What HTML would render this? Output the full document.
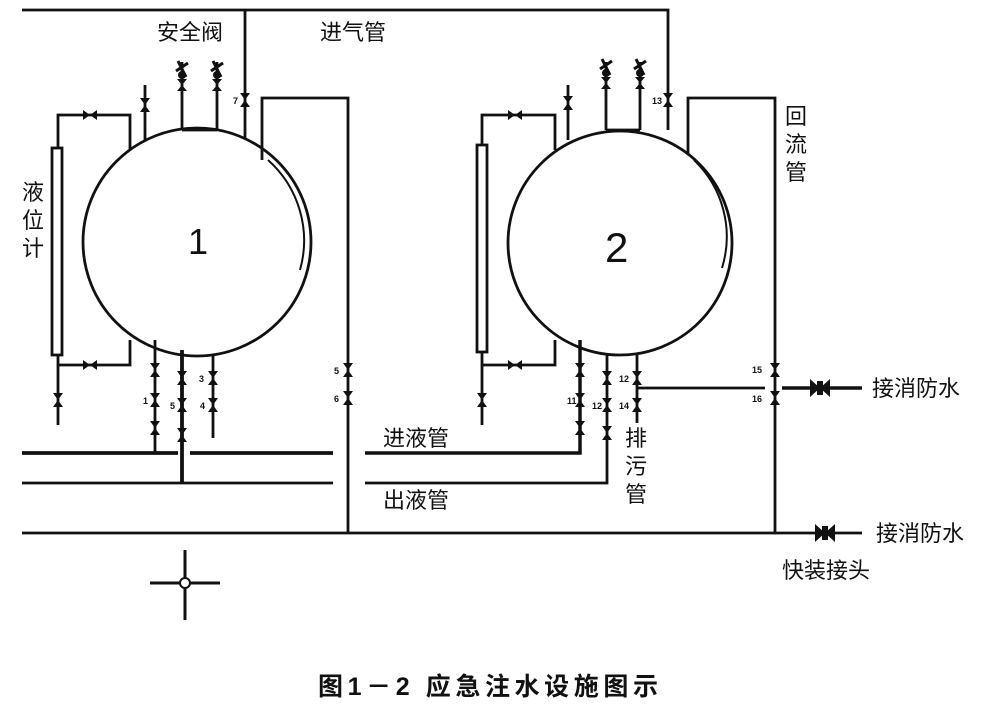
<!DOCTYPE html>
<html><head><meta charset="utf-8"><style>
html,body{margin:0;padding:0;background:#fff;}
svg{display:block}
text{font-family:"Liberation Sans","Noto Sans CJK SC",sans-serif;fill:#111}
</style></head><body>
<svg width="1000" height="706" viewBox="0 0 1000 706" xmlns="http://www.w3.org/2000/svg">
<defs>
<g id="vv"><path d="M-5,-7 L5,-7 L0,0 Z M-5,7 L5,7 L0,0 Z" fill="#111"/></g>
<g id="hv"><path d="M-7,-5 L-7,5 L0,0 Z M7,-5 L7,5 L0,0 Z" fill="#111"/></g>
<g id="bv"><path d="M-10,-9 L-10,9 L0,0 Z M10,-9 L10,9 L0,0 Z" fill="#111"/><rect x="-3" y="-7" width="6" height="14" fill="#111"/></g>
<g id="sv"><path d="M-5,-6 L5,-6 L0,0 Z M-5,6 L5,6 L0,0 Z" fill="#111"/><path d="M-6,-14 L6,-22 M-4,-24 L4,-8" stroke="#111" stroke-width="3"/><circle cx="0" cy="-10" r="4" fill="#111"/></g>
</defs>
<g stroke="#111" stroke-width="2.8" fill="none">
<path d="M22,10 L668,10 L668,130"/>
<path d="M245,10 L245,138"/>
<circle cx="197" cy="242" r="114"/>
<path d="M268,160 A108,108 0 0 1 300,270" stroke-width="2"/>
<path d="M182,130 L217,130 M182,130 L182,62 M217,130 L217,62" />
<path d="M145,85 L145,140"/>
<rect x="52" y="148" width="10" height="207" stroke-width="2.8"/>
<path d="M58,148 L58,115 L130,115 L130,150"/>
<path d="M58,355 L58,425 M58,365 L130,365 L130,340"/>
<path d="M262,160 L262,98 L348,98 L348,533"/>
<path d="M155,340 L155,453"/>
<path d="M182,350 L182,483" stroke-width="3.8"/>
<path d="M213,355 L213,438"/>
<path d="M22,453 L178,453 M190,453 L333,453" stroke-width="3.8"/>
<path d="M22,483 L333,483"/>
<path d="M22,533 L775,533 L775,98 L688,98 L688,155"/>
<path d="M185,550 L185,620 M150,583 L220,583" stroke-width="3"/>
<circle cx="620" cy="243" r="112"/>
<path d="M694,160 A106,106 0 0 1 722,268" stroke-width="2"/>
<path d="M606,130 L640,130 M606,130 L606,62 M640,130 L640,62"/>
<path d="M568,85 L568,140"/>
<rect x="477" y="145" width="10" height="207" stroke-width="2.8"/>
<path d="M482,145 L482,115 L555,115 L555,150"/>
<path d="M482,352 L482,425 M482,365 L555,365 L555,340"/>
<path d="M580,340 L580,453 L365,453" stroke-width="3.5"/>
<path d="M607,355 L607,483 L365,483"/>
<path d="M637,355 L637,423 M637,388 L765,388"/>
<path d="M782,388 L862,388" stroke-width="3.5"/>
<path d="M775,533 L862,533"/>
</g>
<circle cx="185" cy="583" r="5" fill="#fff" stroke="#111" stroke-width="2"/>
<use href="#hv" x="90" y="115"/><use href="#hv" x="90" y="365"/>
<use href="#vv" x="145" y="105"/><use href="#vv" x="58" y="400"/>
<use href="#sv" x="182" y="85"/><use href="#sv" x="217" y="85"/>
<use href="#vv" x="245" y="100"/>
<use href="#vv" x="155" y="370"/><use href="#vv" x="155" y="400"/><use href="#vv" x="155" y="428"/>
<use href="#vv" x="182" y="378"/><use href="#vv" x="182" y="405"/><use href="#vv" x="182" y="435"/>
<use href="#vv" x="213" y="378"/><use href="#vv" x="213" y="405"/>
<use href="#vv" x="348" y="370"/><use href="#vv" x="348" y="398"/>
<use href="#hv" x="515" y="115"/><use href="#hv" x="515" y="365"/>
<use href="#vv" x="568" y="103"/><use href="#vv" x="482" y="400"/>
<use href="#sv" x="606" y="83"/><use href="#sv" x="640" y="83"/>
<use href="#vv" x="668" y="100"/>
<use href="#vv" x="580" y="370"/><use href="#vv" x="580" y="400"/><use href="#vv" x="580" y="428"/>
<use href="#vv" x="607" y="378"/><use href="#vv" x="607" y="405"/><use href="#vv" x="607" y="433"/>
<use href="#vv" x="637" y="378"/><use href="#vv" x="637" y="405"/>
<use href="#vv" x="775" y="370"/><use href="#vv" x="775" y="398"/>
<use href="#bv" x="820" y="388"/><use href="#bv" x="825" y="533"/>
<g font-size="9" font-weight="bold">
<text x="233" y="104">7</text><text x="143" y="404">1</text><text x="170" y="409">5</text><text x="199" y="382">3</text><text x="200" y="409">4</text>
<text x="334" y="374">5</text><text x="334" y="402">6</text>
<text x="652" y="104">13</text><text x="567" y="404">11</text><text x="592" y="409">12</text><text x="619" y="382">12</text><text x="619" y="409">14</text>
<text x="752" y="373">15</text><text x="752" y="402">16</text>
</g>
<g font-size="22">
<text x="157" y="40">安全阀</text>
<text x="320" y="40">进气管</text>
<text x="22" y="200">液</text><text x="22" y="228">位</text><text x="22" y="256">计</text>
<text x="785" y="124">回</text><text x="785" y="152">流</text><text x="785" y="180">管</text>
<text x="383" y="446">进液管</text>
<text x="383" y="508">出液管</text>
<text x="625" y="446">排</text><text x="625" y="474">污</text><text x="625" y="502">管</text>
<text x="872" y="396">接消防水</text>
<text x="876" y="541">接消防水</text>
<text x="782" y="578">快装接头</text>
</g>
<text x="188" y="254" font-size="36">1</text>
<text x="605" y="262" font-size="42">2</text>
<text x="318" y="695" font-size="25" font-weight="bold" textLength="340" lengthAdjust="spacing">图1－2  应急注水设施图示</text>
</svg>
</body></html>
